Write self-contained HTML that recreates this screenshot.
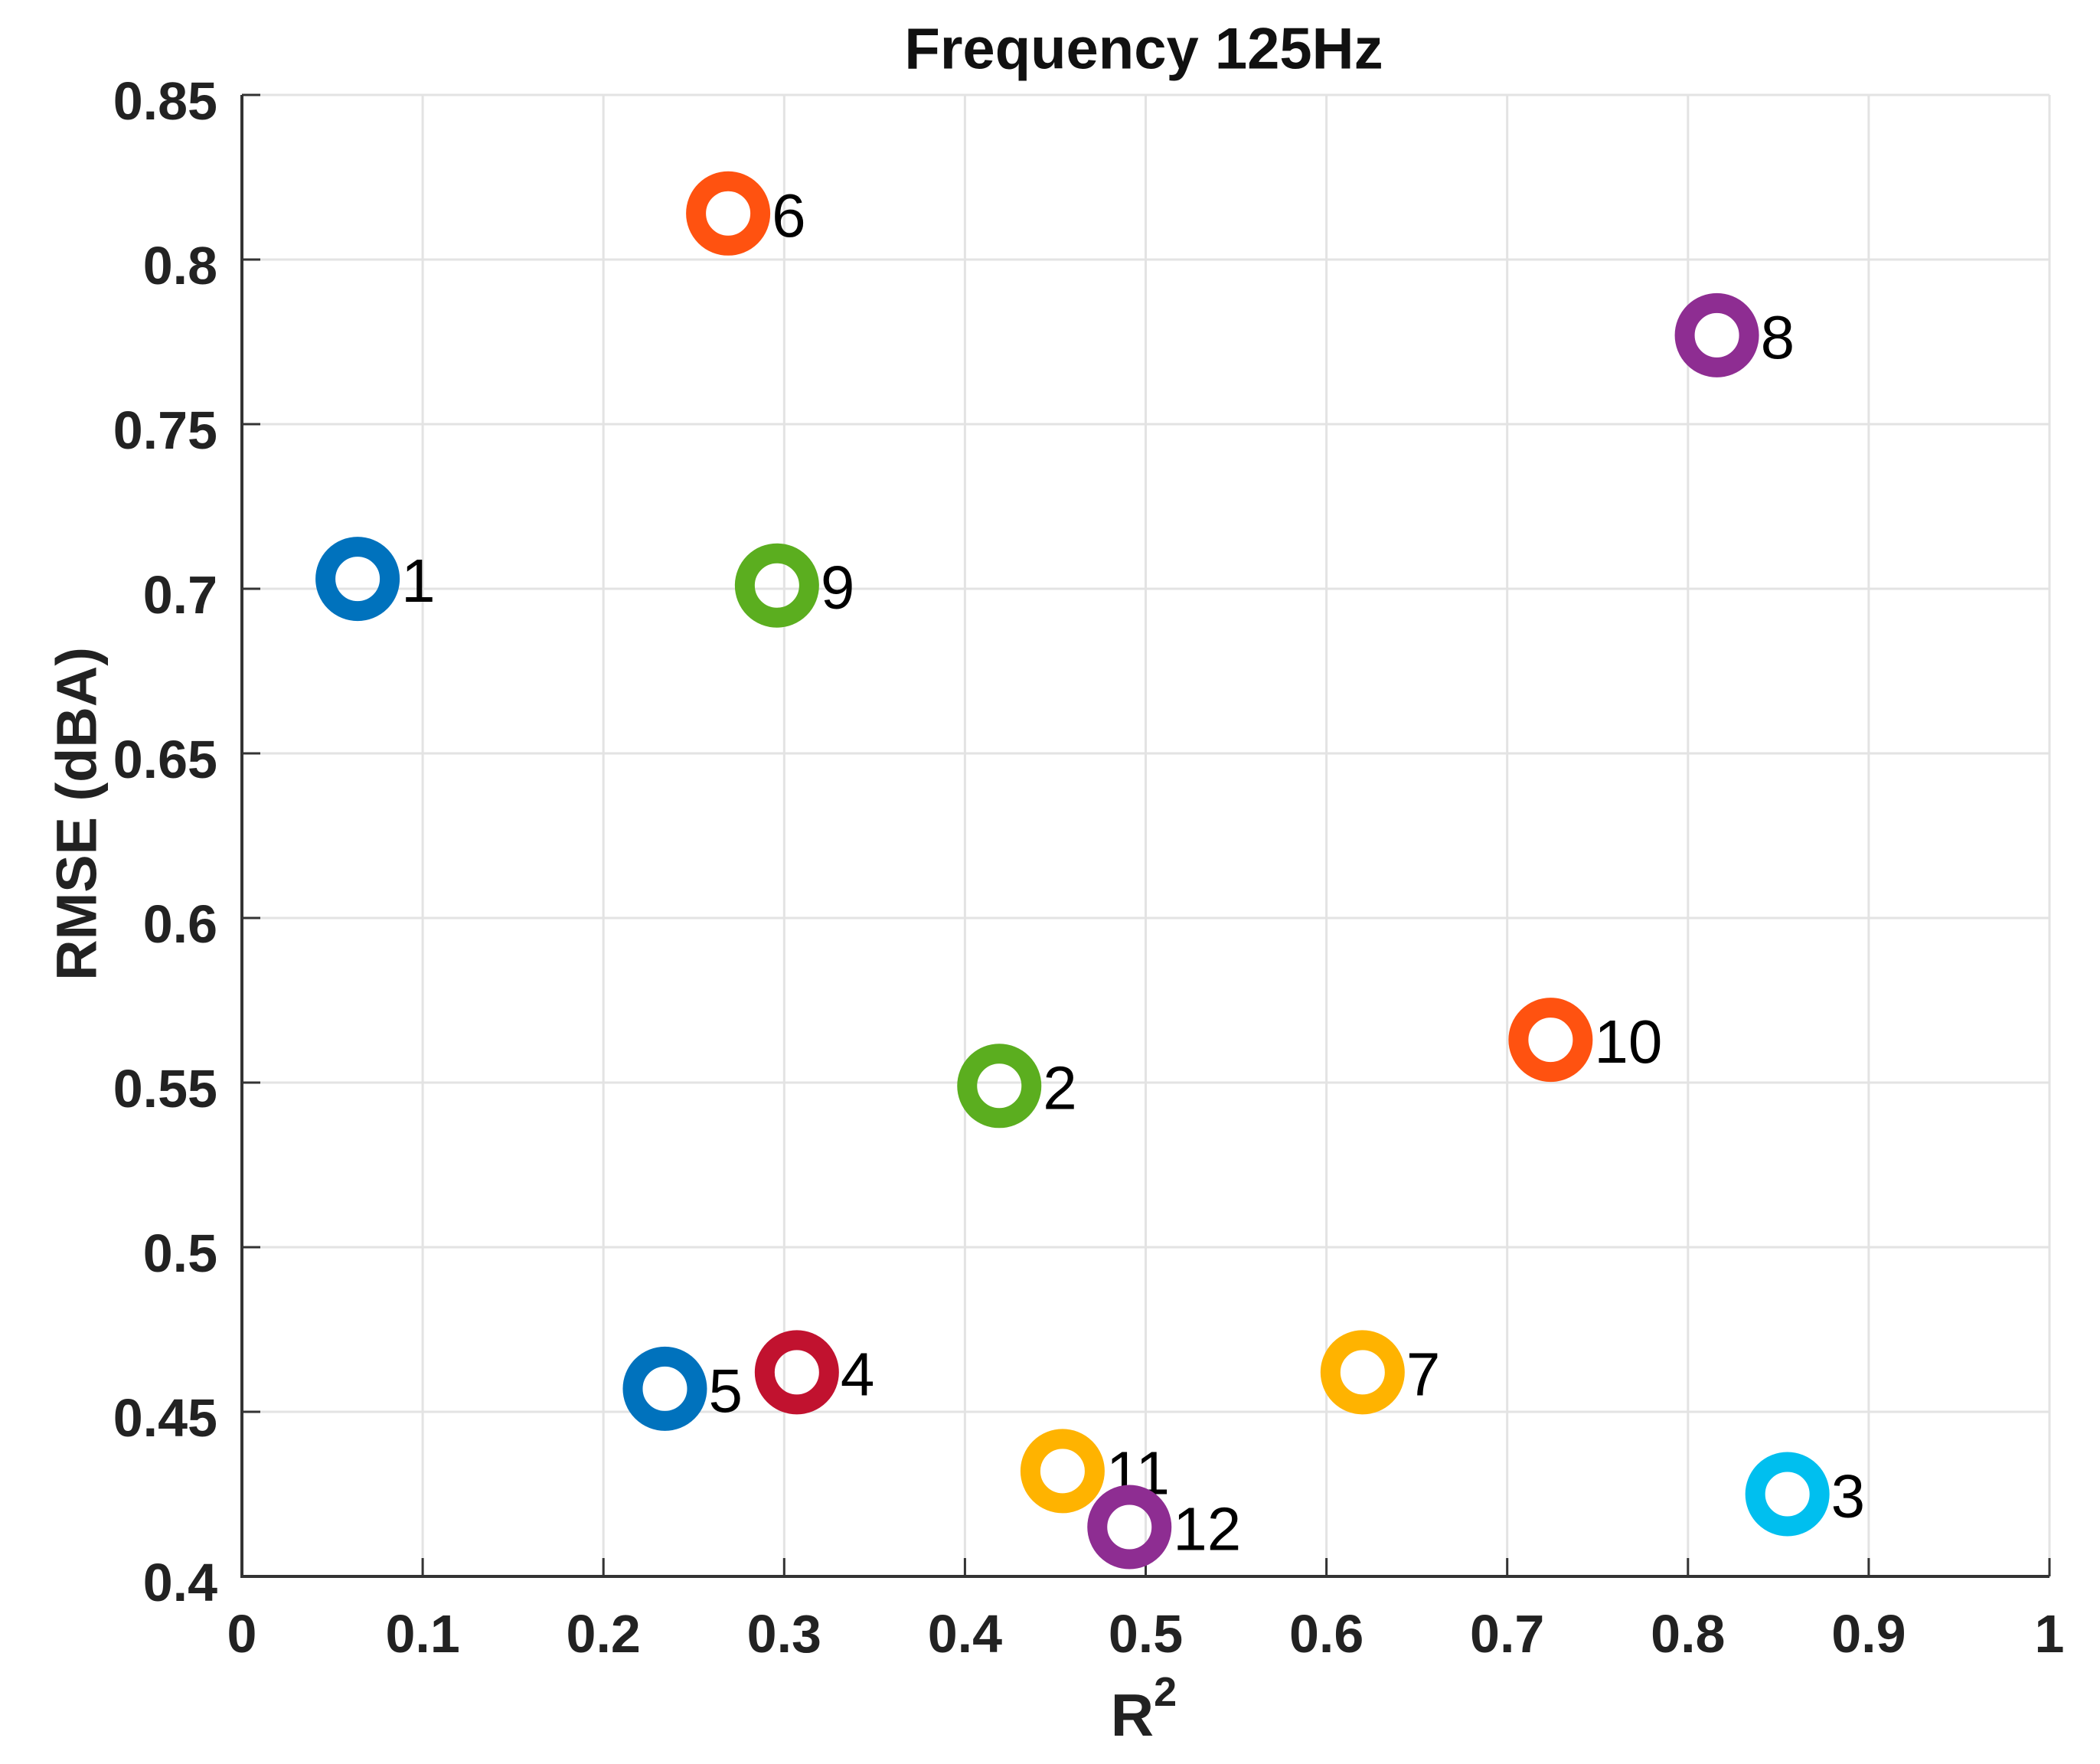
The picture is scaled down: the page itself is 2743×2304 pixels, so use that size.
<!DOCTYPE html>
<html><head><meta charset="utf-8"><style>
html,body{margin:0;padding:0;background:#fff;}
svg{display:block;font-family:"Liberation Sans",Arial,sans-serif;}
</style></head><body>
<svg id="chart" width="2743" height="2304" viewBox="0 0 2743 2304">
<g id="grid"></g>
<g id="axes"></g>
<g id="points"></g>
<text x="1494" y="64" text-anchor="middle" dominant-baseline="central" font-size="76" font-weight="bold" fill="#111">Frequency 125Hz</text>
<text x="1494" y="2240" text-anchor="middle" dominant-baseline="central" font-size="78" font-weight="bold" fill="#222">R<tspan dy="-30" font-size="54">2</tspan></text>
<text x="100" y="1063" text-anchor="middle" dominant-baseline="central" font-size="74" font-weight="bold" fill="#222" transform="rotate(-90 100 1063)">RMSE (dBA)</text>
</svg>
<script>
const labels = ['1','2','3','4','5','6','7','8','9','10','11','12'];
const r2Values = [0.064,0.419,0.855,0.307,0.234,0.269,0.620,0.816,0.296,0.724,0.454,0.491];
const rmseValues = [0.703,0.549,0.425,0.462,0.457,0.814,0.462,0.777,0.701,0.563,0.432,0.415];
const colors = ['#0072BD','#5BAE1F','#00BFEF','#C1122F','#0072BD','#FF5210','#FFB300','#8E2D92','#5BAE1F','#FF5210','#FFB300','#8E2D92'];
const xTicks = ['0','0.1','0.2','0.3','0.4','0.5','0.6','0.7','0.8','0.9','1'];
const yTicks = ['0.4','0.45','0.5','0.55','0.6','0.65','0.7','0.75','0.8','0.85'];

const L=316,R=2677,T=124,B=2059,X0=0,X1=1,Y0=0.4,Y1=0.85;
const sx=v=>L+(v-X0)/(X1-X0)*(R-L);
const sy=v=>B-(v-Y0)/(Y1-Y0)*(B-T);
const NS='http://www.w3.org/2000/svg';
function mk(tag,attrs,parent){const e=document.createElementNS(NS,tag);for(const k in attrs)e.setAttribute(k,attrs[k]);parent.appendChild(e);return e;}
const grid=document.getElementById('grid'),axes=document.getElementById('axes'),pts=document.getElementById('points');

xTicks.forEach(t=>{
  const x=sx(parseFloat(t));
  const g=mk('line',{x1:x,y1:T,x2:x,y2:B,stroke:'#e3e3e3','stroke-width':3},grid);
  
  
  const tk=mk('line',{x1:x,y1:B,x2:x,y2:B-24,stroke:'#333','stroke-width':3},axes);
  
  
  const tx=mk('text',{x:x,y:2134,'text-anchor':'middle','dominant-baseline':'central','font-size':70,'font-weight':'bold',fill:'#222'},axes);
  tx.textContent=t;
  
  
});
yTicks.forEach(t=>{
  const y=sy(parseFloat(t));
  const g=mk('line',{x1:L,y1:y,x2:R,y2:y,stroke:'#e3e3e3','stroke-width':3},grid);
  
  
  const tk=mk('line',{x1:L,y1:y,x2:L+24,y2:y,stroke:'#333','stroke-width':3},axes);
  
  
  const tx=mk('text',{x:284,y:y+8,'text-anchor':'end','dominant-baseline':'central','font-size':70,'font-weight':'bold',fill:'#222'},axes);
  tx.textContent=t;
  
  
});
const ax=mk('path',{d:`M${L},${T} L${L},${B} L${R},${B}`,fill:'none',stroke:'#333','stroke-width':4},axes);



labels.forEach((lb,i)=>{
  const x=sx(r2Values[i]),y=sy(rmseValues[i]);
  const c=mk('circle',{cx:x,cy:y,r:42,fill:'none',stroke:colors[i],'stroke-width':26},pts);
  
  
  const t=mk('text',{x:x+57,y:y+30,'font-size':80,fill:'#000'},pts);
  t.textContent=lb;
  
  
});
</script>
</body></html>
